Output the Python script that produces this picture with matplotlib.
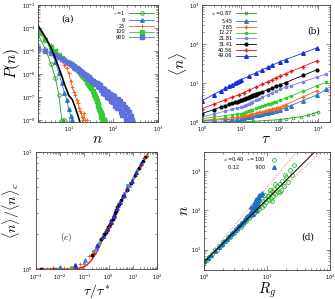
import numpy as np
import matplotlib
matplotlib.use("Agg")
import matplotlib.pyplot as plt
from matplotlib.ticker import LogLocator, NullFormatter

plt.rcParams['mathtext.fontset'] = 'cm'
plt.rcParams['font.family'] = ['DejaVu Sans']

# ---------------- panel (a): P(n) for several tau ----------------
n_t1 = [2, 3, 4, 5, 6, 7, 8]
logP_t1 = [-4.25, -4.9, -5.55, -6.15, -6.9, -8.0, -8.0]

n_t9 = [2, 3, 4, 5, 6, 7, 8, 9, 10, 11, 12]
logP_t9 = [-3.95, -4.45, -4.95, -5.45, -5.95, -6.4, -6.8, -7.1, -7.5, -7.8, -8.0]

n_t25 = [2, 3, 4, 5, 6, 7, 8, 9, 10, 11, 12, 13, 14, 15, 16, 17, 18, 19, 20, 21, 22, 23, 25]
logP_t25 = [-4.1, -4.45, -4.75, -5.0, -5.2, -5.38, -5.6, -5.75, -5.95, -6.3, -6.55, -6.75,
            -6.9, -7.1, -7.25, -7.45, -7.6, -7.7, -7.85, -8.0, -7.7, -8.0, -8.0]

n_t100 = [2, 3, 4, 5, 6, 7, 8, 9, 10, 11, 12, 13, 14, 15, 16, 17, 18, 19, 20, 21, 22, 23, 24,
          25, 26, 27, 28, 29, 30, 32, 34, 36, 38, 40, 42, 44, 46, 48, 50, 52, 54, 56, 58, 60, 63]
logP_t100 = [-4.15, -4.5, -4.8, -5.0, -5.15, -5.28, -5.38, -5.46, -5.52, -5.57, -5.62, -5.67,
             -5.72, -5.77, -5.82, -5.87, -5.92, -5.97, -6.02, -6.07, -6.12, -6.16, -6.22,
             -6.25, -6.32, -6.36, -6.42, -6.45, -6.52, -6.6, -6.72, -6.85, -6.93, -7.05,
             -7.15, -7.3, -7.38, -7.5, -7.6, -7.7, -7.85, -7.75, -8.0, -8.0, -8.0]

n_t900 = list(range(2, 41)) + [42, 44, 46, 48, 50, 53, 56, 59, 62, 65, 68, 72, 76, 80, 84, 88,
                               92, 97, 102, 107, 112, 118, 124, 130, 137, 144, 151, 159, 167,
                               175, 184, 193, 203, 213, 224, 236, 248, 260]
logP_t900 = [-4.85, -4.98, -5.08, -5.17, -5.25, -5.33, -5.4, -5.46, -5.52, -5.57, -5.62, -5.66,
             -5.71, -5.75, -5.79, -5.82, -5.86, -5.89, -5.92, -5.97, -5.98, -6.04, -6.04,
             -6.1, -6.09, -6.15, -6.14, -6.2, -6.19, -6.24, -6.23, -6.29, -6.28, -6.33,
             -6.32, -6.37, -6.36, -6.41, -6.40,
             -6.38, -6.51, -6.43, -6.56, -6.47, -6.69, -6.61, -6.80, -6.62, -6.84, -6.72,
             -6.98, -6.76, -7.03, -6.87, -7.18, -6.89, -7.21, -6.95, -7.37, -7.08, -7.47,
             -7.09, -7.47, -7.15, -7.64, -7.30, -7.77, -7.31, -7.75, -7.44, -7.98, -7.50,
             -7.96, -7.65, -8.0, -7.79, -8.0]

n_theory = [2, 2.5, 3, 3.5, 4, 5, 6, 7, 8, 10, 12, 14, 16, 18]
logP_theory = [-3.87, -4.15, -4.4, -4.63, -4.85, -5.3, -5.72, -6.08, -6.42, -6.92, -7.1,
               -7.45, -7.78, -8.1]

tau_labels_a = [r'$\tau$ =1', '9', '25', '100', '900']

# ---------------- panel (b): <n> vs tau for several phi ----------------
phi_labels = [r'$\phi$ =0.87', '5.45', '7.85', '12.27', '21.81', '31.41', '40.56', '49.06']

tau_p087 = [1, 5, 21, 100, 150, 225, 365, 540, 730, 980]
n_p087 = [1.0, 1.0, 1.04, 1.15, 1.22, 1.3, 1.37, 1.49, 1.65, 1.78]

tau_p545 = [1, 2, 4, 6, 8, 10, 12, 14, 16, 18, 20, 25, 30, 36, 42, 49, 56, 64, 81, 100, 144,
            196, 400, 900, 1600]
n_p545 = [1.07, 1.11, 1.16, 1.18, 1.2, 1.22, 1.27, 1.31, 1.35, 1.38, 1.42, 1.49, 1.55, 1.61,
          1.66, 1.71, 1.77, 1.82, 1.91, 2.0, 2.32, 2.64, 3.53, 4.9, 6.9]

tau_p785 = [1, 2, 4, 6, 8, 10, 12, 14, 16, 18, 20, 25, 30, 36, 42, 49, 56, 64, 72, 81, 90, 100,
            121, 144, 400, 900]
n_p785 = [1.1, 1.17, 1.24, 1.29, 1.32, 1.35, 1.41, 1.46, 1.51, 1.55, 1.6, 1.68, 1.76, 1.84,
          1.9, 1.98, 2.04, 2.11, 2.17, 2.23, 2.29, 2.35, 2.56, 2.77, 4.38, 6.3]

tau_p1227 = [1, 2, 4, 6, 8, 10, 12, 14, 16, 18, 20, 25, 30, 36, 42, 49, 56, 64, 72, 81, 100,
             144, 196, 400, 900, 1600]
n_p1227 = [1.22, 1.33, 1.46, 1.54, 1.6, 1.65, 1.75, 1.85, 1.93, 2.01, 2.08, 2.25, 2.39, 2.55,
           2.68, 2.82, 2.95, 3.1, 3.22, 3.35, 3.6, 4.14, 4.67, 6.14, 8.4, 10.5]

tau_p2181 = [1, 2, 4, 6, 8, 10, 12, 14, 16, 18, 20, 25, 30, 36, 49, 64, 81, 100, 144, 196, 400,
             900, 1600]
n_p2181 = [1.35, 1.6, 1.91, 2.11, 2.27, 2.4, 2.61, 2.8, 2.98, 3.14, 3.3, 3.66, 3.97, 4.32,
           4.98, 5.63, 6.28, 6.9, 7.78, 8.57, 10.8, 14.0, 17.0]

tau_p3141 = [1, 2, 3, 4, 5, 6, 7, 8, 9, 10, 11, 12, 13, 14, 15, 16, 17, 18, 19, 20, 21, 22, 23,
             24, 25, 27, 30, 36, 49, 64, 81, 100, 144, 400, 900]
n_p3141 = [1.65, 2.08, 2.39, 2.64, 2.84, 3.03, 3.19, 3.33, 3.47, 3.6, 3.73, 3.87, 3.99, 4.11,
           4.22, 4.33, 4.43, 4.53, 4.63, 4.72, 4.82, 4.9, 4.99, 5.07, 5.15, 5.31, 5.54, 5.95,
           6.72, 7.46, 8.18, 8.9, 10.3, 15.6, 21.7]

tau_p4056 = [1, 2, 4, 6, 9, 12, 16, 25, 36, 49, 64, 81, 100, 144, 196, 400, 900]
n_p4056 = [2.2, 2.86, 3.72, 4.33, 5.03, 5.7, 6.5, 7.9, 9.4, 10.8, 12.2, 13.6, 15.0, 17.4, 19.8,
           26.5, 37.0]

tau_p4906 = [1, 2, 3, 4, 5, 6, 7, 8, 9, 10, 16, 25, 36, 49, 64, 100, 144, 400, 900]
n_p4906 = [3.5, 5.07, 6.3, 7.35, 8.3, 9.1, 9.9, 10.6, 11.3, 12.0, 14.9, 18.4, 21.8, 25.1,
           28.5, 35.0, 40.0, 58.5, 79.0]

# ---------------- panel (c): scaling collapse ----------------
c_curve_x = [0.001, 0.01, 0.03, 0.06, 0.1, 0.13, 0.15, 0.2, 0.3, 0.45, 0.7, 1.0, 1.5, 2.3,
             3.5, 5.5, 10.7, 20, 35, 50]
c_curve_y = [1.0, 1.0, 1.003, 1.015, 1.05, 1.09, 1.12, 1.2, 1.36, 1.6, 1.95, 2.24, 2.75, 3.4,
             3.95, 4.65, 6.0, 7.5, 9.1, 10.3]

c_x_p545 = [0.01, 0.04, 0.11, 0.3, 0.6, 0.9, 1.2, 1.7, 2.5, 4, 7]
c_y_p545 = [1.04, 1.09, 1.2, 1.5, 1.9, 2.2, 2.5, 2.9, 3.5, 4.2, 5.2]
c_x_p785 = [0.014, 0.065, 0.16, 0.35, 0.5, 0.7, 1.0, 1.4, 2.0, 3.0, 4.5, 7, 12, 22, 35]
c_y_p785 = [1.03, 1.1, 1.3, 1.62, 1.8, 2.0, 2.3, 2.65, 3.1, 3.7, 4.4, 5.3, 6.2, 7.8, 9.3]
c_x_p1227 = [0.028, 0.22, 0.4, 0.62, 0.9, 1.3, 1.9, 2.8, 4.5, 5.8, 9, 15, 40]
c_y_p1227 = [1.05, 1.42, 1.68, 1.95, 2.2, 2.6, 3.05, 3.6, 4.4, 5.2, 5.8, 7.0, 9.2]
c_x_p2181 = [0.1, 0.27, 0.45, 0.7, 0.95, 1.3, 1.7, 2.3, 3.2, 4.5, 6.5, 10, 16]
c_y_p2181 = [1.13, 1.45, 1.72, 2.0, 2.25, 2.6, 2.9, 3.35, 3.9, 4.45, 5.1, 6.0, 7.1]
c_x_p3141 = [0.0017, 0.2, 0.5, 0.65, 0.75, 0.85, 0.95, 1.05, 1.15, 1.3, 1.45, 1.6, 1.8, 2.0,
             2.3, 2.7, 3.2, 4.0, 5.5, 8.0, 12, 18, 25, 32]
c_y_p3141 = [1.0, 1.32, 1.82, 1.98, 2.08, 2.15, 2.27, 2.33, 2.43, 2.58, 2.7, 2.83, 3.0, 3.15,
             3.38, 3.62, 3.9, 4.2, 4.7, 5.45, 6.3, 7.3, 8.3, 9.0]
c_x_p4056 = [0.005, 0.25, 0.55, 0.8, 1.0, 1.25, 1.6, 2.1, 2.8, 3.8, 5.5, 8.5, 13, 20, 30]
c_y_p4056 = [1.03, 1.38, 1.85, 2.1, 2.3, 2.55, 2.85, 3.25, 3.7, 4.15, 4.75, 5.5, 6.5, 7.6, 8.8]
c_x_p4906 = [0.04, 0.33, 0.6, 0.9, 1.2, 1.6, 2.2, 3.0, 4.2, 6, 9, 14, 22]
c_y_p4906 = [1.08, 1.6, 1.92, 2.2, 2.5, 2.85, 3.3, 3.75, 4.3, 4.9, 5.7, 6.8, 8.0]

# ---------------- panel (d): n vs Rg ----------------
rg_g = [1.0, 1.05, 1.1, 1.2, 1.35, 1.5, 1.6, 1.75, 1.9, 2.0, 2.2, 2.4, 2.6, 2.8, 3.0, 3.2, 3.4,
        3.6, 3.8, 4.0, 4.2, 4.5, 4.7, 5.0, 5.2, 5.5, 5.8, 6.0, 6.3, 6.6, 7.0, 7.3, 7.6, 8.0,
        8.3, 8.7, 9.0, 9.4, 9.8, 10.2, 10.6, 11.0, 11.5, 12.0, 12.5, 13.0, 13.6, 14.2, 15.0,
        15.8, 16.5, 17.5, 18.5, 20.0, 21.5, 23.0, 25.0, 27.0, 13.5, 11.2, 9.2, 16.0, 19.0, 12.0]
n_g = [4.8, 5.0, 5.5, 6.6, 7.6, 9.5, 10.0, 12.3, 13.0, 15.2, 16.5, 20.5, 21.0, 26.5, 26.5, 33,
       32, 39.5, 38.5, 47, 45, 57, 54, 68, 62, 80, 74, 92, 83, 108, 98, 128, 110, 150, 125,
       175, 140, 200, 160, 235, 180, 270, 200, 310, 230, 360, 260, 420, 300, 480, 340, 560,
       420, 700, 520, 1100, 800, 1400, 470, 340, 240, 300, 800, 170]
rg_b = [1.0, 1.15, 1.3, 1.5, 1.7, 1.9, 2.1, 2.3, 2.5, 2.7, 2.9, 3.1, 3.3, 3.5, 3.7, 3.9, 4.1,
        4.3, 4.5, 4.7, 4.9, 5.1, 5.3, 5.5, 5.7, 5.9, 6.1, 6.3, 6.5, 6.7, 6.9, 7.1, 7.3, 7.6,
        7.9, 8.2, 5.6, 6.2, 6.8, 7.4, 6.0, 6.6, 7.2]
n_b = [5, 6, 7.3, 9.3, 11.5, 13.8, 16.2, 19, 21.5, 24.5, 28, 31, 35, 39, 42, 47, 50, 56, 60,
       66, 70, 78, 85, 90, 100, 105, 115, 125, 130, 145, 160, 170, 190, 210, 240, 270, 120,
       150, 190, 250, 80, 100, 130]
rg_line = [1.0, 100.0]
n_fit = [4.8, 7600.0]
n_upper = [5.0, 31500.0]
n_lower = [5.0, 5000.0]

# ---------------- colours ----------------
c_g1 = '#1fa01f'
c_b1 = '#2a7bcf'
c_or = '#ff6010'
c_g2 = '#33cc33'
c_pu = '#6070e0'
c_pu2 = '#7585e6'
c_rd = '#e81414'
c_db = '#1530e0'

LABEL_FS = 11


def style(ax, xlim, ylim):
    ax.set_xscale('log')
    ax.set_yscale('log')
    ax.set_xlim(xlim)
    ax.set_ylim(ylim)
    for a in (ax.xaxis, ax.yaxis):
        a.set_major_locator(LogLocator(base=10, numticks=15))
        a.set_minor_locator(LogLocator(base=10, subs=np.arange(2, 10), numticks=15))
        a.set_minor_formatter(NullFormatter())
    ax.tick_params(which='both', direction='in', top=True, right=True, width=0.4,
                   labelsize=3.6, pad=1.8, colors='#333333', labelcolor='black')
    ax.tick_params(which='major', length=2.6)
    ax.tick_params(which='minor', length=1.4)
    for s in ax.spines.values():
        s.set_color('#444444')
        s.set_linewidth(0.6)


fig = plt.figure(figsize=(3.35, 2.99), dpi=100)
axA = fig.add_axes([0.112, 0.592, 0.360, 0.391])
axB = fig.add_axes([0.603, 0.592, 0.382, 0.391])
axC = fig.add_axes([0.107, 0.100, 0.362, 0.392])
axD = fig.add_axes([0.609, 0.097, 0.376, 0.395])

lw = 0.6
# ---- (a)
P = lambda v: 10 ** np.array(v)
axA.plot(n_t1, P(logP_t1), '-o', color=c_g1, mfc='none', mew=0.6, ms=2.6, lw=lw, label=tau_labels_a[0])
axA.plot(n_t9, P(logP_t9), '-^', color=c_b1, ms=2.6, lw=lw, label=tau_labels_a[1])
axA.plot(n_t25, P(logP_t25), '-+', color=c_or, ms=3.0, mew=0.7, lw=lw, label=tau_labels_a[2])
axA.plot(n_t100, P(logP_t100), '-s', color=c_g2, ms=2.3, lw=lw, label=tau_labels_a[3])
axA.plot(n_t900, P(logP_t900), '-s', color=c_pu, ms=2.3, lw=lw, label=tau_labels_a[4])
axA.plot(n_theory, P(logP_theory), '-', color='black', lw=1.2)
style(axA, (2, 1000), (8.5e-9, 1e-3))
axA.legend(loc='upper right', markerfirst=False, frameon=False, fontsize=3.6,
           handlelength=5.0, labelspacing=0.15, handletextpad=0.8, borderaxespad=0.4)
axA.set_xlabel('$n$', fontsize=LABEL_FS, labelpad=-2)
axA.set_ylabel('$P(n)$', fontsize=LABEL_FS, labelpad=0)
axA.text(0.2, 0.86, '(a)', transform=axA.transAxes, fontsize=6.5, family='DejaVu Serif')

# ---- (b)
series_b = [(tau_p087, n_p087, 'o', c_g1, True), (tau_p545, n_p545, '^', c_b1, False),
            (tau_p785, n_p785, '+', c_or, False), (tau_p1227, n_p1227, 's', c_g2, False),
            (tau_p2181, n_p2181, 's', c_pu2, False), (tau_p3141, n_p3141, 'o', 'black', False),
            (tau_p4056, n_p4056, '+', c_rd, False), (tau_p4906, n_p4906, '^', c_db, False)]
for (t, v, m, c, hollow), lab in zip(series_b, phi_labels):
    kw = dict(mfc='none', mew=0.6) if hollow else {}
    ms = 3.0 if m == '+' else (2.0 if m in 'os' else 2.6)
    axB.plot(t, v, '-' + m, color=c, ms=ms, lw=lw, label=lab, **kw)
style(axB, (1, 2000), (1, 1000))
axB.legend(loc='upper left', markerfirst=False, frameon=False, fontsize=3.6,
           handlelength=4.0, labelspacing=0.15, handletextpad=0.8, borderaxespad=0.4,
           bbox_to_anchor=(0.04, 1.0))
axB.set_xlabel(r'$\tau$', fontsize=LABEL_FS, labelpad=-2)
axB.set_ylabel(r'$\langle n\rangle$', fontsize=LABEL_FS, labelpad=0)
axB.text(0.82, 0.76, '(b)', transform=axB.transAxes, fontsize=6.5, family='DejaVu Serif')

# ---- (c)
axC.plot(c_curve_x, c_curve_y, '-', color=c_rd, lw=1.0)
scat_c = [(c_x_p545, c_y_p545, '^', c_b1), (c_x_p785, c_y_p785, '+', c_or),
          (c_x_p1227, c_y_p1227, 's', c_g2), (c_x_p2181, c_y_p2181, 's', c_pu2),
          (c_x_p3141, c_y_p3141, 'o', 'black'), (c_x_p4056, c_y_p4056, '+', c_rd),
          (c_x_p4906, c_y_p4906, '^', c_db)]
for x, y, m, c in scat_c:
    ms = 3.0 if m == '+' else (2.0 if m in 'os' else 2.6)
    axC.plot(x, y, m, color=c, ms=ms, mew=0.7, ls='none')
style(axC, (1e-3, 100), (1, 10))
axC.tick_params(axis='x', which='major', pad=2.4)
axC.tick_params(axis='y', which='major', pad=2.2)
axC.set_xlabel(r'$\tau/\tau^*$', fontsize=10, labelpad=0)
axC.set_ylabel(r'$\langle n\rangle/\langle n\rangle_c$', fontsize=10, labelpad=0)
axC.text(0.2, 0.25, '$(c)$', transform=axC.transAxes, fontsize=6.5)

# ---- (d)
axD.plot(rg_line, n_upper, '--', color='#ff7070', lw=0.5, dashes=(2, 1.5))
axD.plot(rg_line, n_lower, '--', color='#ff7070', lw=0.5, dashes=(2, 1.5))
axD.plot(rg_g, n_g, 'o', mfc='none', mec='#2eb82e', mew=0.6, ms=2.8, ls='none',
         label=r'$\phi$ =0.40  $\tau$ =100')
axD.plot(rg_b, n_b, '^', color='#1f6fc0', ms=2.6, ls='none', label='0.12          900')
axD.plot(rg_line, n_fit, '-', color='black', lw=0.7)
style(axD, (1, 100), (3, 3100))
axD.legend(loc='upper left', markerfirst=False, frameon=False, fontsize=3.6,
           handlelength=2.0, labelspacing=0.15, handletextpad=0.8, borderaxespad=0.3,
           bbox_to_anchor=(0.12, 1.0))
axD.set_xlabel('$R_g$', fontsize=10.5, labelpad=-0.5)
axD.set_ylabel('$n$', fontsize=LABEL_FS, labelpad=0)
axD.text(0.77, 0.26, '(d)', transform=axD.transAxes, fontsize=6.5, family='DejaVu Serif')

fig.savefig('out.png', dpi=100)
